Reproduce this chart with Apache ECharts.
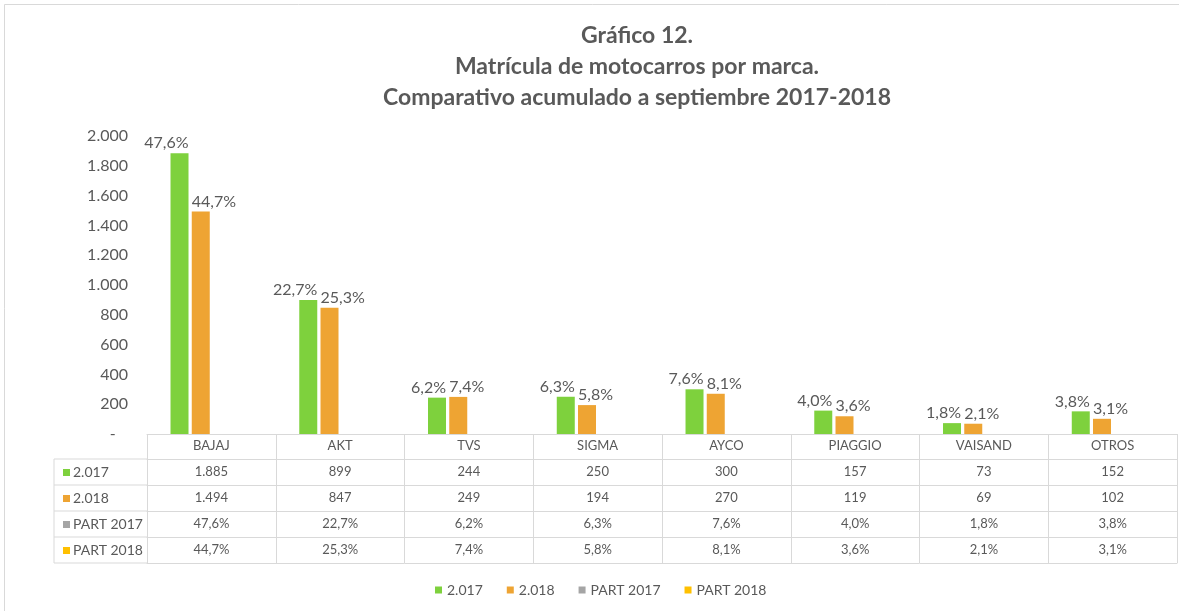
<!DOCTYPE html>
<html>
<head>
<meta charset="utf-8">
<script src="https://cdn.jsdelivr.net/npm/echarts@6/dist/echarts.min.js"></script>
<style>
    html, body { margin: 0; padding: 0; background: #fff; }
    #barchart { width: 1179px; height: 611px; }
</style>
</head>
<body>
<div id="barchart"></div>
<script>
// data
const categories = ['BAJAJ', 'AKT', 'TVS', 'SIGMA', 'AYCO', 'PIAGGIO', 'VAISAND', 'OTROS']
const values2017 = [1885, 899, 244, 250, 300, 157, 73, 152]
const values2018 = [1494, 847, 249, 194, 270, 119, 69, 102]
const part2017 = [47.6, 22.7, 6.2, 6.3, 7.6, 4.0, 1.8, 3.8]
const part2018 = [44.7, 25.3, 7.4, 5.8, 8.1, 3.6, 2.1, 3.1]
const seriesNames = ['2.017', '2.018', 'PART 2017', 'PART 2018']
const seriesColors = ['#7ed13d', '#eea433', '#a5a5a5', '#ffc000']
const yMax = 2000
const yStep = 200

const titleLines = ['Gráfico 12.', 'Matrícula de motocarros por marca.', 'Comparativo acumulado a septiembre 2017-2018']

// layout
const FONT = 'Lato'
const TEXT = '#595959'
const LINE = '#d9d9d9'
const GRID_LEFT = 147
const AXIS_Y = 434
const HEAD_H = 25
const ROW_H = 26
const TABLE_LEFT = 54

const fmtInt = (v) => String(v).replace(/\B(?=(\d{3})+(?!\d))/g, '.')
const fmtPct = (v) => v.toFixed(1).replace('.', ',') + '%'

const tableRows = [
    values2017.map(fmtInt),
    values2018.map(fmtInt),
    part2017.map(fmtPct),
    part2018.map(fmtPct),
]

// top edge of data row i (0 = header line under the axis)
const rowTop = (i) => AXIS_Y + HEAD_H + ROW_H * i
const tableBottom = rowTop(tableRows.length)

// one category axis per table row, shifted down by the row height
const tableAxis = (offset, labels, margin) => ({
    type: 'category',
    data: categories,
    position: 'bottom',
    offset: offset,
    axisLine: { show: true, lineStyle: { color: LINE, width: 1 } },
    axisTick: { show: false },
    axisLabel: {
        show: !!labels,
        interval: 0,
        margin: margin,
        color: TEXT,
        fontFamily: FONT,
        fontSize: 13,
        formatter: (v, i) => (labels ? labels[i] : ''),
    },
})

const xAxes = [
    {
        ...tableAxis(0, categories, 5),
        axisTick: {
            show: true,
            interval: 0,
            length: tableBottom - AXIS_Y,
            lineStyle: { color: LINE },
        },
    },
]
tableRows.forEach((row, i) => xAxes.push(tableAxis(rowTop(i) - AXIS_Y, row, 6)))
xAxes.push(tableAxis(tableBottom - AXIS_Y, null, 6))

// left column of the data table
const leftColumn = []
seriesNames.forEach((name, i) => {
    const top = rowTop(i)
    leftColumn.push({
        type: 'rect',
        shape: { x: TABLE_LEFT + 9, y: top + 10, width: 7, height: 7 },
        style: { fill: seriesColors[i] },
    })
    leftColumn.push({
        type: 'text',
        x: TABLE_LEFT + 19,
        y: top + ROW_H / 2,
        style: { text: name, fill: TEXT, font: '14px ' + FONT, verticalAlign: 'middle' },
    })
    leftColumn.push({
        type: 'line',
        shape: { x1: TABLE_LEFT, y1: top, x2: GRID_LEFT, y2: top },
        style: { stroke: LINE, lineWidth: 1 },
    })
})
leftColumn.push({
    type: 'line',
    shape: { x1: TABLE_LEFT, y1: tableBottom, x2: GRID_LEFT, y2: tableBottom },
    style: { stroke: LINE, lineWidth: 1 },
})
leftColumn.push({
    type: 'line',
    shape: { x1: TABLE_LEFT, y1: rowTop(0), x2: TABLE_LEFT, y2: tableBottom },
    style: { stroke: LINE, lineWidth: 1 },
})

const barLabel = (parts, align, pos) => ({
    show: true,
    position: pos,
    align: align,
    verticalAlign: 'bottom',
    distance: 0,
    offset: [0, -2],
    color: TEXT,
    fontFamily: FONT,
    fontSize: 16,
    formatter: (p) => fmtPct(parts[p.dataIndex]),
})

const option = {
    animation: false,
    backgroundColor: '#fff',
    color: seriesColors,
    title: {
        text: titleLines.join('\n'),
        left: 632,
        textAlign: 'center',
        top: 15,
        textStyle: {
            fontFamily: FONT,
            fontSize: 23,
            fontWeight: 'bold',
            color: TEXT,
            lineHeight: 31,
        },
    },
    legend: {
        data: seriesNames,
        left: 430,
        top: 578,
        icon: 'rect',
        itemWidth: 7,
        itemHeight: 7,
        itemGap: 24,
        textStyle: { color: TEXT, fontFamily: FONT, fontSize: 14 },
    },
    grid: {
        left: GRID_LEFT,
        right: 2,
        top: 136,
        bottom: 611 - AXIS_Y,
        containLabel: false,
    },
    xAxis: xAxes,
    yAxis: {
        type: 'value',
        min: 0,
        max: yMax,
        interval: yStep,
        axisLine: { show: false },
        axisTick: { show: false },
        splitLine: { show: false },
        axisLabel: {
            margin: 19,
            color: TEXT,
            fontFamily: FONT,
            fontSize: 16,
            formatter: (v) => (v === 0 ? '-   ' : fmtInt(v)),
        },
    },
    series: [
        {
            name: seriesNames[0],
            type: 'bar',
            data: values2017,
            barWidth: 18,
            barGap: '18%',
            label: barLabel(part2017, 'right', ['100%', 0]),
        },
        {
            name: seriesNames[1],
            type: 'bar',
            data: values2018,
            barWidth: 18,
            barGap: '18%',
            label: barLabel(part2018, 'left', [0, 0]),
        },
        // the share series only appear in the legend and the table
        { name: seriesNames[2], type: 'bar', data: [], barWidth: 18, barGap: '18%' },
        { name: seriesNames[3], type: 'bar', data: [], barWidth: 18, barGap: '18%' },
    ],
    graphic: [
        {
            type: 'rect',
            shape: { x: 4.5, y: 4.5, width: 1300, height: 1000 },
            style: { fill: 'none', stroke: LINE, lineWidth: 1 },
            silent: true,
        },
        ...leftColumn,
    ],
}

const init = () => {
    const ct = document.getElementById('barchart')
    echarts.dispose(ct)
    const chart = echarts.init(ct)
    chart.setOption(option)
}

init()
</script>
</body>
</html>
